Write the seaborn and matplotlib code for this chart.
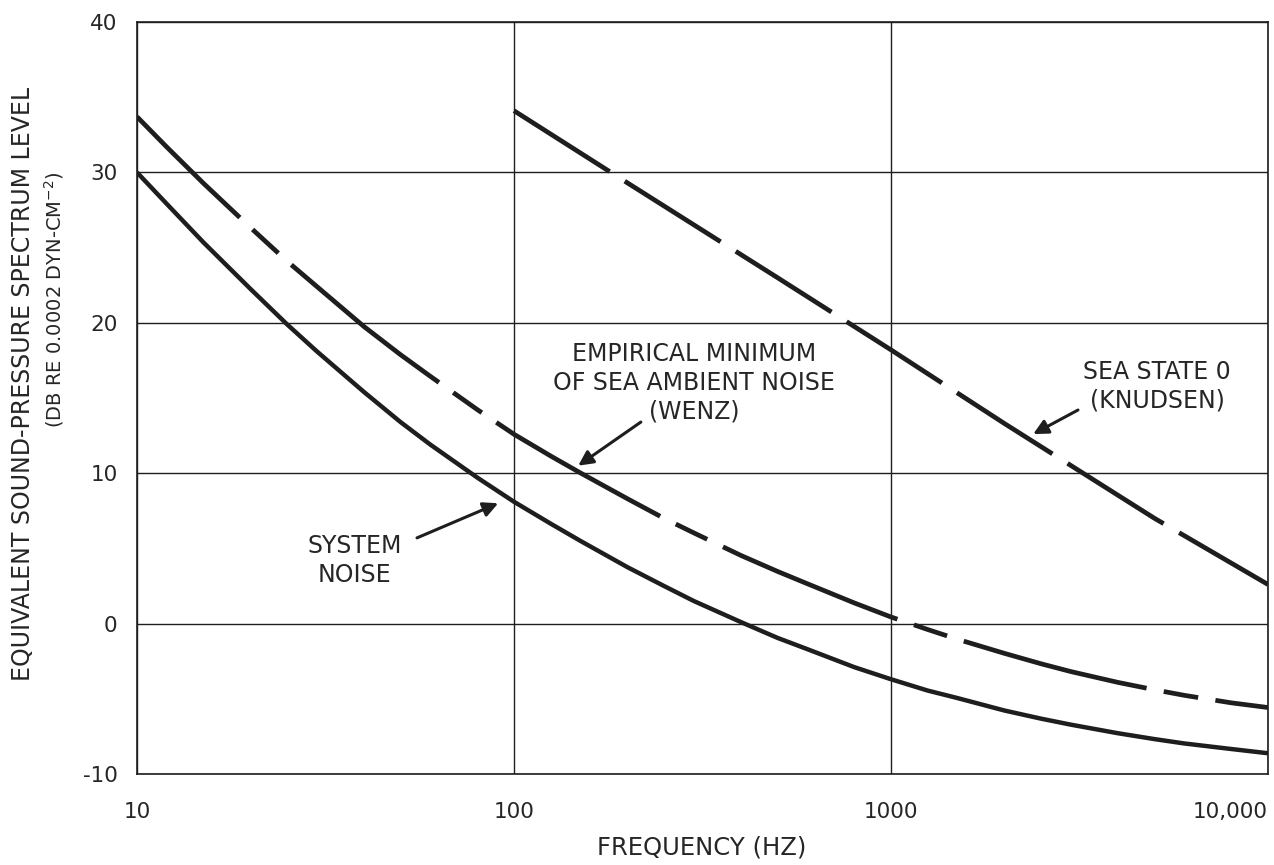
import numpy as np
import pandas as pd
import matplotlib
matplotlib.use("Agg")
import matplotlib.pyplot as plt
import seaborn as sns

# Values
freq_system = [10, 12, 15, 20, 25, 30, 40, 50, 60, 80, 100, 125, 150, 200, 250, 300,
               400, 500, 600, 800, 1000, 1250, 1500, 2000, 2500, 3000, 4000, 5000,
               6000, 8000, 10000]
level_system = [30.0, 27.9, 25.35, 22.25, 19.9, 18.1, 15.4, 13.4, 11.9, 9.7, 8.1, 6.65,
                5.5, 3.75, 2.5, 1.5, 0.1, -0.95, -1.7, -2.9, -3.7, -4.45, -4.95, -5.78,
                -6.32, -6.72, -7.29, -7.68, -7.97, -8.34, -8.62]

freq_wenz = [10, 12, 15, 20, 25, 30, 40, 50, 60, 80, 100, 125, 150, 200, 250, 300,
             400, 500, 600, 800, 1000, 1250, 1500, 2000, 2500, 3000, 4000, 5000,
             6000, 8000, 10000]
level_wenz = [33.7, 31.68, 29.28, 26.33, 24.1, 22.41, 19.75, 17.88, 16.44, 14.22, 12.59,
              11.15, 10.02, 8.3, 7.0, 6.03, 4.53, 3.47, 2.65, 1.37, 0.44, -0.39, -1.04,
              -1.98, -2.67, -3.19, -3.91, -4.4, -4.77, -5.27, -5.58]

freq_knudsen = [100, 200, 500, 1000, 2000, 5000, 10000]
level_knudsen = [34.1, 29.3, 23.0, 18.2, 13.3, 7.0, 2.6]

x_ticks = [10, 100, 1000, 10000]
x_ticklabels = ["10", "100", "1000", "10,000"]
y_ticks = [-10, 0, 10, 20, 30, 40]
y_ticklabels = ["-10", "0", "10", "20", "30", "40"]

sns.set_style("white")
plt.rcParams['font.family'] = ['DejaVu Sans']
ink = "#1e1e1e"
txt = "#262626"

fig = plt.figure(figsize=(12.74, 8.65), dpi=100)
ax = fig.add_axes([137 / 1274, 91 / 865, 1131 / 1274, 752 / 865])

df_sys = pd.DataFrame({"freq": freq_system, "level": level_system})
df_wenz = pd.DataFrame({"freq": freq_wenz, "level": level_wenz})
df_knud = pd.DataFrame({"freq": freq_knudsen, "level": level_knudsen})

sns.lineplot(data=df_sys, x="freq", y="level", ax=ax, color=ink, linewidth=3.2,
             solid_capstyle="butt")
# wenz: long / short dash pattern
sns.lineplot(data=df_wenz, x="freq", y="level", ax=ax, color=ink, linewidth=3.4,
             linestyle=(9.5, (40, 3.7, 7.4, 3.7)), dash_capstyle="butt")
sns.lineplot(data=df_knud, x="freq", y="level", ax=ax, color=ink, linewidth=3.4,
             linestyle=(0, (24, 3.8)), dash_capstyle="butt")

ax.set_xscale("log")
ax.set_xlim(10, 10000)
ax.set_ylim(-10, 40)
ax.set_xticks(x_ticks)
ax.set_xticklabels(x_ticklabels)
ax.set_yticks(y_ticks)
ax.set_yticklabels(y_ticklabels)
ax.xaxis.set_minor_locator(matplotlib.ticker.NullLocator())
ax.tick_params(axis="both", length=0, labelsize=15.5, colors=txt)
ax.tick_params(axis="x", pad=20)
ax.tick_params(axis="y", pad=14)
for lab in ax.get_xticklabels():
    if lab.get_text() == "10,000":
        lab.set_horizontalalignment("right")
        lab.set_x(1.0)
ax.grid(True, which="major", color=ink, linewidth=1.0)
for sp in ax.spines.values():
    sp.set_visible(True)
    sp.set_color(ink)
    sp.set_linewidth(1.2)
ax.set_xlabel("")
ax.set_ylabel("")

fig.text(702 / 1274, 1 - 848 / 865, "FREQUENCY (HZ)", ha="center", va="center",
         fontsize=17.5, color=txt)
fig.text(23 / 1274, 1 - 384 / 865, "EQUIVALENT SOUND-PRESSURE SPECTRUM LEVEL",
         rotation=90, ha="center", va="center", fontsize=17, color=txt)
fig.text(54 / 1274, 1 - 300 / 865, "(DB RE 0.0002 DYN-CM$^{-2}$)",
         rotation=90, ha="center", va="center", fontsize=14, color=txt)

arrow = dict(arrowstyle="-|>", color=ink, linewidth=2.2, mutation_scale=22,
             shrinkA=0, shrinkB=0)
ax.annotate("", xy=(148, 10.5), xytext=(217, 13.4), arrowprops=arrow)
ax.annotate("", xy=(90.8, 8.0), xytext=(55.3, 5.7), arrowprops=arrow)
ax.annotate("", xy=(2383, 12.6), xytext=(3133, 14.2), arrowprops=arrow)

ax.text(300, 16.0, "EMPIRICAL MINIMUM\nOF SEA AMBIENT NOISE\n(WENZ)", ha="center",
        va="center", multialignment="center", fontsize=17, color=txt, linespacing=1.25)
ax.text(37.8, 4.2, "SYSTEM\nNOISE", ha="center", va="center", multialignment="center",
        fontsize=17, color=txt, linespacing=1.25)
ax.text(5082, 15.8, "SEA STATE 0\n(KNUDSEN)", ha="center", va="center",
        multialignment="center", fontsize=17, color=txt, linespacing=1.25)

fig.savefig("out.png", dpi=100, facecolor="white")
